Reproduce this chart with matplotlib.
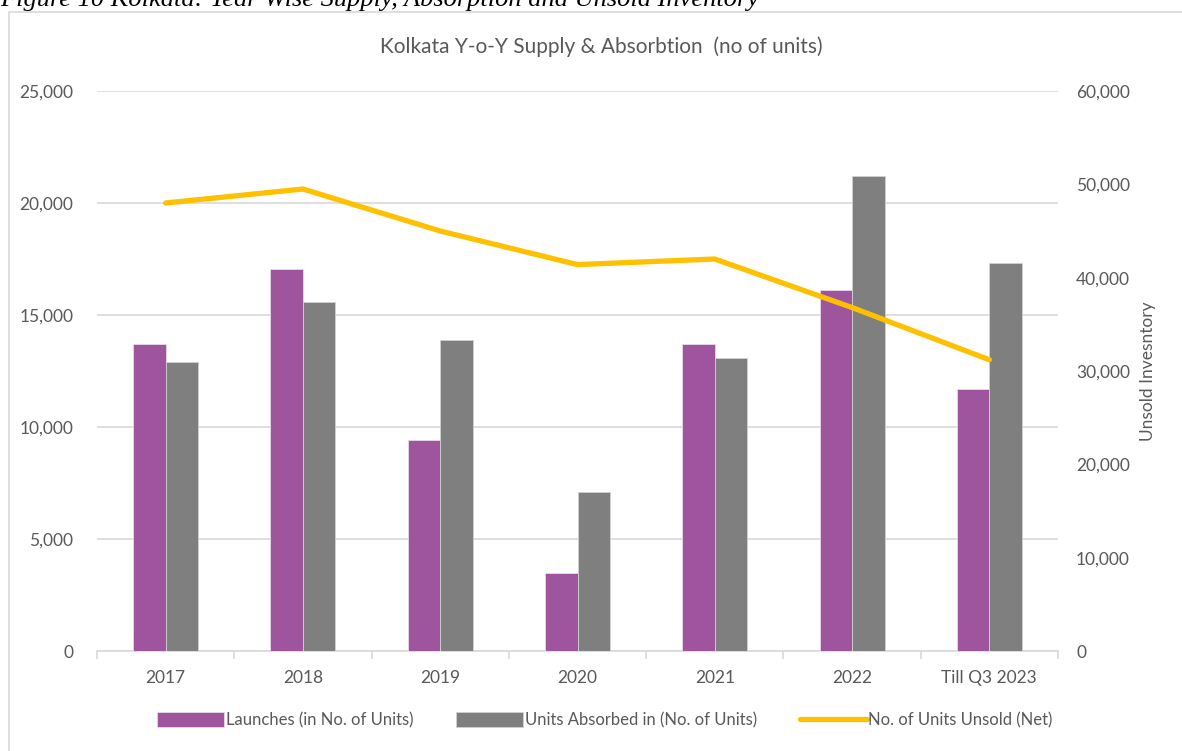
import matplotlib.pyplot as plt
import numpy as np
from matplotlib.patches import Rectangle
from matplotlib.ticker import FuncFormatter, MultipleLocator

# Year-wise supply, absorption and unsold stock (units)
years = ["2017", "2018", "2019", "2020", "2021", "2022", "Till Q3 2023"]
launches = [13700, 17050, 9400, 3500, 13700, 16100, 11700]
absorbed = [12900, 15600, 13900, 7100, 13100, 21200, 17300]
unsold = [48000, 49500, 45000, 41400, 42000, 36800, 31200]

PURPLE = "#9E559E"
GREY = "#7F7F7F"
GOLD = "#FFC000"
TEXT = "#595959"
GRID = "#D9D9D9"

plt.rcParams["font.family"] = ["Lato", "DejaVu Sans"]

W, H = 1182, 751
fig = plt.figure(figsize=(W / 100, H / 100), dpi=100)

# chart frame, running off the right and bottom edges
fig.patches.append(Rectangle((9 / W, -0.05), 1.1, 1 - 12 / H + 0.05,
                             transform=fig.transFigure, fill=False,
                             edgecolor=GRID, linewidth=1.2))

# document caption sitting above the chart frame
fig.text(0.0, 1 - 6 / H, "Figure 10 Kolkata: Year Wise Supply, Absorption and Unsold Inventory",
         family="Liberation Serif", style="italic", fontsize=19,
         ha="left", va="baseline", color="black")

left, right = 97 / W, 1058 / W
bottom, top = 1 - 651 / H, 1 - 91 / H
ax = fig.add_axes([left, bottom, right - left, top - bottom])
ax2 = ax.twinx()

x = np.arange(len(years))
bw = 0.237
ax.bar(x - bw / 2, launches, bw, color=PURPLE, edgecolor="#E8D8E8", linewidth=0.6,
       label="Launches (in No. of Units)", zorder=3)
ax.bar(x + bw / 2, absorbed, bw, color=GREY, edgecolor="#D0D0D0", linewidth=0.6,
       label="Units Absorbed in (No. of Units)", zorder=3)
ax2.plot(x, unsold, color=GOLD, linewidth=3.8, solid_capstyle="round",
         solid_joinstyle="round", label="No. of Units Unsold (Net)", zorder=4)

ax.set_xlim(-0.5, len(years) - 0.5)
ax.set_ylim(0, 25000)
ax2.set_ylim(0, 60000)
ax.yaxis.set_major_locator(MultipleLocator(5000))
ax2.yaxis.set_major_locator(MultipleLocator(10000))
fmt = FuncFormatter(lambda v, _: f"{v:,.0f}")
ax.yaxis.set_major_formatter(fmt)
ax2.yaxis.set_major_formatter(fmt)

ax.grid(axis="y", color=GRID, linewidth=1.2, zorder=0)
ax.set_axisbelow(True)
for a in (ax, ax2):
    for s in ("top", "left", "right"):
        a.spines[s].set_visible(False)
    a.spines["bottom"].set_color(GRID)
    a.spines["bottom"].set_linewidth(1.2)
ax2.spines["bottom"].set_visible(False)

ax.set_xticks(x)
ax.set_xticklabels(years)
ax.set_xticks(np.arange(len(years) + 1) - 0.5, minor=True)
ax.tick_params(axis="x", which="major", length=0, pad=14, labelsize=12.5, labelcolor=TEXT)
ax.tick_params(axis="x", which="minor", length=6, color=GRID, width=1.2)
ax.tick_params(axis="y", length=0, pad=17, labelsize=12.5, labelcolor=TEXT)
ax2.tick_params(axis="y", length=0, pad=13, labelsize=12.5, labelcolor=TEXT)
ax2.set_ylabel("Unsold Invesntory", color=TEXT, fontsize=12.5, labelpad=7)

fig.text(601 / W, 1 - 47 / H, "Kolkata Y-o-Y Supply & Absorbtion  (no of units)",
         ha="center", va="center", fontsize=15, color=TEXT)

handles = ax.get_legend_handles_labels()[0] + ax2.get_legend_handles_labels()[0]
labels = [h.get_label() for h in handles]
fig.legend(handles, labels, loc="center", bbox_to_anchor=(605 / W, 1 - 720 / H),
           ncol=3, frameon=False, fontsize=12, labelcolor=TEXT,
           handlelength=4.0, handleheight=1.0, handletextpad=0.1,
           columnspacing=2.6)

fig.savefig("out.png", dpi=100)
